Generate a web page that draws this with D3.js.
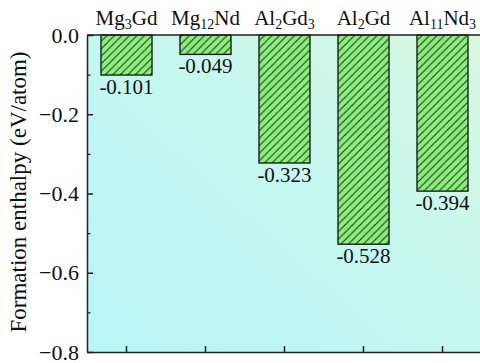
<!DOCTYPE html>
<html>
<head>
<meta charset="utf-8">
<script src="https://cdn.jsdelivr.net/npm/d3@7"></script>
<style>
  body { margin: 0; background: #ffffff; }
  text { font-family: "Liberation Serif", "Times New Roman", serif; fill: #111; }
</style>
</head>
<body>
<svg id="chart" width="480" height="363"></svg>
<script>
// Formation enthalpy of intermetallic compounds (eV/atom)
const categories = ["Mg3Gd", "Mg12Nd", "Al2Gd3", "Al2Gd", "Al11Nd3"];
const enthalpy = [-0.101, -0.049, -0.323, -0.528, -0.394];
const majorTicks = [0, -0.2, -0.4, -0.6, -0.8];
const minorTicks = [-0.1, -0.3, -0.5, -0.7];
const valueLabels = ["-0.101", "-0.049", "-0.323", "-0.528", "-0.394"];

const svg = d3.select("#chart");
const plotLeft = 87, plotRight = 482, plotTop = 35, plotBottom = 352;

const x = d3.scaleBand()
  .domain(categories)
  .range([plotLeft, plotRight])
  .paddingInner(0.354)
  .paddingOuter(0.177);

const y = d3.scaleLinear()
  .domain([-0.8, 0])
  .range([plotBottom, plotTop]);

const defs = svg.append("defs");

// plot-area background: cyan fading to pale green
const bg = defs.append("linearGradient")
  .attr("id", "bgGrad")
  .attr("x1", "0").attr("y1", "0.9")
  .attr("x2", "1").attr("y2", "0");
bg.append("stop").attr("offset", "0").attr("stop-color", "#b9f6f6");
bg.append("stop").attr("offset", "0.55").attr("stop-color", "#c6f7ee");
bg.append("stop").attr("offset", "1").attr("stop-color", "#d9f8e0");

// diagonal hatch for the bars
const step = 7.5;
const hatch = defs.append("pattern")
  .attr("id", "hatch")
  .attr("patternUnits", "userSpaceOnUse")
  .attr("width", step).attr("height", step);
hatch.append("rect").attr("width", step).attr("height", step).attr("fill", "#8cee7c");
hatch.append("path")
  .attr("d", `M0,${step} L${step},0 M${-step / 2},${step / 2} L${step / 2},${-step / 2} M${step / 2},${step * 1.5} L${step * 1.5},${step / 2}`)
  .attr("stroke", "#1d3a1d")
  .attr("stroke-width", 1.1);

svg.append("rect")
  .attr("x", plotLeft).attr("y", plotTop)
  .attr("width", plotRight - plotLeft).attr("height", plotBottom - plotTop)
  .attr("fill", "url(#bgGrad)");

// bars hang down from zero
svg.append("g")
  .selectAll("rect")
  .data(categories)
  .join("rect")
  .attr("x", d => x(d))
  .attr("y", y(0))
  .attr("width", x.bandwidth())
  .attr("height", (d, i) => y(enthalpy[i]) - y(0))
  .attr("fill", "url(#hatch)")
  .attr("stroke", "#111")
  .attr("stroke-width", 1.3);

// value labels under each bar
svg.append("g")
  .selectAll("text")
  .data(categories)
  .join("text")
  .attr("x", d => x(d) + x.bandwidth() / 2)
  .attr("y", (d, i) => y(enthalpy[i]) + 19)
  .attr("text-anchor", "middle")
  .attr("font-size", 21)
  .text((d, i) => valueLabels[i]);

// left axis: major ticks with labels, minor ticks without
const fmt = d => d === 0 ? "0.0" : "\u2212" + Math.abs(d).toFixed(1);
const yAxis = svg.append("g")
  .attr("transform", `translate(${plotLeft},0)`)
  .call(d3.axisLeft(y).tickValues(majorTicks).tickFormat(fmt).tickSize(-6).tickSizeOuter(0).tickPadding(8));
yAxis.selectAll("text").attr("font-size", 22).attr("font-family", "Liberation Serif").attr("fill", "#111");
yAxis.selectAll("line, path").attr("stroke", "#222").attr("stroke-width", 1.5);

const yMinor = svg.append("g")
  .attr("transform", `translate(${plotLeft},0)`)
  .call(d3.axisLeft(y).tickValues(minorTicks).tickFormat("").tickSize(-3.5).tickSizeOuter(0));
yMinor.select(".domain").remove();
yMinor.selectAll("line").attr("stroke", "#222").attr("stroke-width", 1.3);

// bottom axis: inward ticks at category centres
const xAxis = svg.append("g")
  .attr("transform", `translate(0,${plotBottom})`)
  .call(d3.axisBottom(x).tickFormat("").tickSize(-6).tickSizeOuter(0));
xAxis.selectAll("line, path").attr("stroke", "#222").attr("stroke-width", 1.5);

// top frame line at zero
svg.append("line")
  .attr("x1", plotLeft).attr("x2", plotRight)
  .attr("y1", plotTop).attr("y2", plotTop)
  .attr("stroke", "#222").attr("stroke-width", 1.5);

// compound names above the frame, digits as subscripts
const names = svg.append("g")
  .selectAll("text")
  .data(categories)
  .join("text")
  .attr("x", d => x(d) + x.bandwidth() / 2)
  .attr("y", 25)
  .attr("text-anchor", "middle")
  .attr("font-size", 21);
names.each(function (d) {
  const t = d3.select(this);
  const parts = d.match(/[A-Za-z]+|\d+/g);
  let shifted = false;
  parts.forEach(p => {
    const isNum = /\d/.test(p);
    const ts = t.append("tspan").text(p);
    if (isNum) {
      ts.attr("font-size", 14).attr("dy", shifted ? 0 : 4);
      shifted = true;
    } else {
      if (shifted) ts.attr("dy", -4);
      shifted = false;
    }
  });
});

// y-axis title
svg.append("text")
  .attr("transform", "translate(26,192) rotate(-90)")
  .attr("text-anchor", "middle")
  .attr("font-size", 23)
  .text("Formation enthalpy (eV/atom)");
</script>
</body>
</html>
